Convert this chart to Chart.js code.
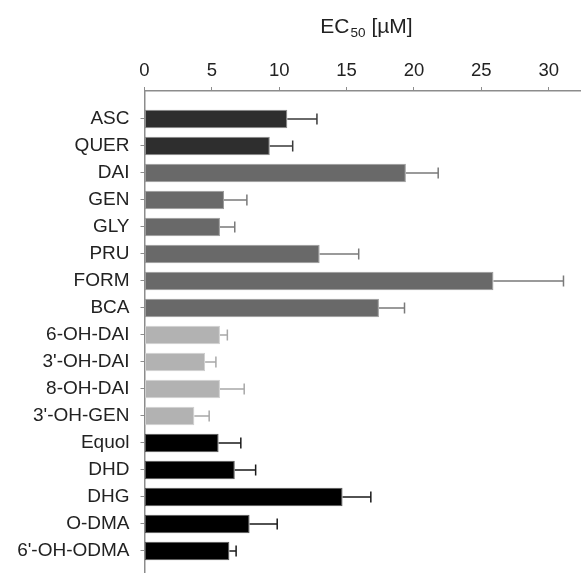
<!DOCTYPE html>
<html>
<head>
<meta charset="utf-8">
<script src="https://cdn.jsdelivr.net/npm/chart.js@4"></script>
<style>
  html, body { margin: 0; padding: 0; background: #fff; }
  #wrap { width: 581px; height: 573px; position: relative; }
</style>
</head>
<body>
<div id="wrap"><canvas id="chart"></canvas></div>
<script>
// Compounds, top to bottom
const labels = ['ASC', 'QUER', 'DAI', 'GEN', 'GLY', 'PRU', 'FORM', 'BCA',
    '6-OH-DAI', "3'-OH-DAI", '8-OH-DAI', "3'-OH-GEN",
    'Equol', 'DHD', 'DHG', 'O-DMA', "6'-OH-ODMA"];

// EC50 values [µM] and their errors
const ec50 = [10.6, 9.3, 19.4, 5.9, 5.6, 13.0, 25.9, 17.4, 5.6, 4.5, 5.6, 3.7, 5.5, 6.7, 14.7, 7.8, 6.3];
const errs = [2.2, 1.7, 2.4, 1.7, 1.1, 2.9, 5.2, 1.9, 0.55, 0.8, 1.8, 1.1, 1.65, 1.55, 2.1, 2.05, 0.5];

// Compound group of each bar
const groups = [0, 0, 1, 1, 1, 1, 1, 1, 2, 2, 2, 2, 3, 3, 3, 3, 3];
const xTicks = [0, 5, 10, 15, 20, 25, 30];

const fills   = ['#2e2e2e', '#696969', '#b2b2b2', '#000000'];
const borders = ['#8a8a8a', '#9a9a9a', '#cfcfcf', '#555555'];
const errCols = ['#3a3a3a', '#7a7a7a', '#a8a8a8', '#1a1a1a'];

const FONT = "'Liberation Sans', Arial, sans-serif";

// Error bars, right side only
const errorBars = {
    id: 'errorBars',
    afterDatasetsDraw(chart) {
        const xs = chart.scales.x, ys = chart.scales.y;
        const c = chart.ctx;
        c.save();
        c.lineWidth = 1.5;
        ec50.forEach((v, i) => {
            const y = ys.getPixelForValue(i);
            const x0 = xs.getPixelForValue(v);
            const x1 = xs.getPixelForValue(v + errs[i]);
            c.strokeStyle = errCols[groups[i]];
            c.beginPath();
            c.moveTo(x0, y);
            c.lineTo(x1, y);
            c.moveTo(x1, y - 5.5);
            c.lineTo(x1, y + 5.5);
            c.stroke();
        });
        c.restore();
    }
};

// Axis title with subscript
const axisTitle = {
    id: 'axisTitle',
    afterDraw(chart) {
        const c = chart.ctx;
        c.save();
        c.fillStyle = '#222';
        c.textBaseline = 'alphabetic';
        const big = '21px ' + FONT, small = '13.5px ' + FONT;
        c.font = big;
        const w1 = c.measureText('EC').width;
        const w3 = c.measureText(' [µM]').width;
        c.font = small;
        const w2 = c.measureText('50').width;
        let x = 366.5 - (w1 + w2 + w3 + 1) / 2;
        const base = 33;
        c.font = big;
        c.fillText('EC', x, base);
        x += w1 + 1;
        c.font = small;
        c.fillText('50', x, base + 4);
        x += w2;
        c.font = big;
        c.fillText(' [µM]', x, base);
        c.restore();
    }
};

new Chart(document.getElementById('chart'), {
    type: 'bar',
    data: {
        datasets: [{
            data: ec50.map((v, i) => ({ x: v, y: i })),
            backgroundColor: groups.map(g => fills[g]),
            borderColor: groups.map(g => borders[g]),
            borderWidth: 1,
            borderSkipped: false,
            categoryPercentage: 0.7,
            barPercentage: 0.97
        }]
    },
    options: {
        indexAxis: 'y',
        responsive: true,
        maintainAspectRatio: false,
        animation: false,
        layout: { padding: 0 },
        plugins: {
            legend: { display: false },
            tooltip: { enabled: false }
        },
        scales: {
            x: {
                type: 'linear',
                position: 'top',
                min: 0,
                max: 32.4,
                afterBuildTicks: s => { s.ticks = xTicks.map(v => ({ value: v })); },
                afterFit: s => { s.height = 91; s.paddingLeft = 0; s.paddingRight = 0; },
                grid: { drawOnChartArea: false, drawTicks: true, tickLength: 4, color: '#8c8c8c' },
                border: { display: true, color: '#8c8c8c', width: 1.5 },
                ticks: { color: '#222', font: { family: FONT, size: 18.5 }, padding: 5, maxRotation: 0 }
            },
            y: {
                type: 'linear',
                reverse: true,
                offset: false,
                min: -1.037,
                max: 16.815,
                afterBuildTicks: s => { s.ticks = labels.map((_, i) => ({ value: i })); },
                afterFit: s => { s.width = 144.5; s.paddingTop = 0; s.paddingBottom = 0; },
                grid: { offset: false, drawOnChartArea: false, drawTicks: true, tickLength: 4, color: '#8c8c8c' },
                border: { display: true, color: '#8c8c8c', width: 1.5 },
                ticks: {
                    color: '#222',
                    font: { family: FONT, size: 19 },
                    padding: 11,
                    autoSkip: false,
                    callback: v => labels[v]
                }
            }
        }
    },
    plugins: [errorBars, axisTitle]
});
</script>
</body>
</html>
